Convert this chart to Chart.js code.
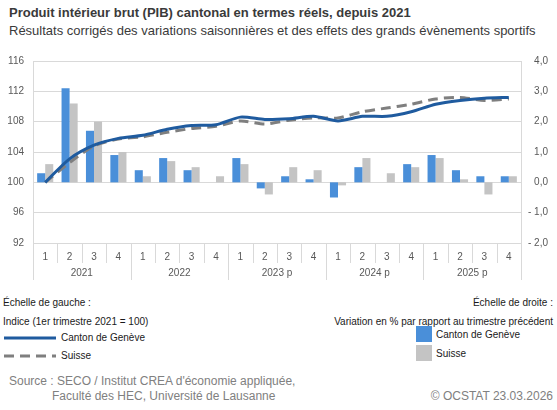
<!DOCTYPE html>
<html lang="fr">
<head>
<meta charset="utf-8">
<title>PIB cantonal</title>
<script src="https://cdn.jsdelivr.net/npm/chart.js@4/dist/chart.umd.min.js"></script>
<style>
  body { margin: 0; background: #fff; font-family: "Liberation Sans", Arial, sans-serif; }
  #page { position: relative; width: 557px; height: 410px; overflow: hidden; }
  #chartBox { position: absolute; left: 0; top: 0; }
  .t { position: absolute; white-space: nowrap; line-height: 1; }
  .title { left: 9px; top: 6px; font-size: 13px; font-weight: bold; color: #3a3a3a; }
  .sub { left: 9px; top: 24px; font-size: 13px; color: #3a3a3a; }
  .leg { font-size: 10px; color: #1a1a1a; }
  .src { font-size: 12px; color: #808080; }
  .swatch { position: absolute; width: 16px; height: 16px; }
</style>
</head>
<body>
<div id="page">
  <div class="t title">Produit intérieur brut (PIB) cantonal en termes réels, depuis 2021</div>
  <div class="t sub">Résultats corrigés des variations saisonnières et des effets des grands évènements sportifs</div>

  <div id="chartBox"><canvas id="pibChart" width="557" height="290"></canvas></div>

  <!-- Légende gauche -->
  <div class="t leg" style="left:3px; top:298px;">Échelle de gauche :</div>
  <div class="t leg" style="left:3px; top:317px;">Indice (1er trimestre 2021 = 100)</div>
  <svg style="position:absolute; left:0; top:331px;" width="60" height="32">
    <line x1="4" y1="7" x2="56" y2="7" stroke="#1f5b9f" stroke-width="3"/>
    <line x1="4" y1="25" x2="56" y2="25" stroke="#7f7f7f" stroke-width="3" stroke-dasharray="10,6"/>
  </svg>
  <div class="t leg" style="left:61px; top:333px;">Canton de Genève</div>
  <div class="t leg" style="left:61px; top:351px;">Suisse</div>

  <!-- Légende droite -->
  <div class="t leg" style="right:4px; top:298px;">Échelle de droite :</div>
  <div class="t leg" style="right:4px; top:317px;">Variation en % par rapport au trimestre précédent</div>
  <div class="swatch" style="left:416px; top:326px; background:#4a8fd9;"></div>
  <div class="t leg" style="left:436px; top:330px;">Canton de Genève</div>
  <div class="swatch" style="left:416px; top:345px; background:#c4c4c4;"></div>
  <div class="t leg" style="left:436px; top:349px;">Suisse</div>

  <div class="t src" style="left:9px; top:375px;">Source : SECO / Institut CREA d'économie appliquée,</div>
  <div class="t src" style="left:52px; top:390px;">Faculté des HEC, Université de Lausanne</div>
  <div class="t src" style="right:4px; top:390px;">© OCSTAT 23.03.2026</div>
</div>

<script>
// Trimestres et années
const quarters = ['1', '2', '3', '4', '1', '2', '3', '4', '1', '2', '3', '4', '1', '2', '3', '4', '1', '2', '3', '4'];
const years = ['2021', '2022', '2023 p', '2024 p', '2025 p'];

// Indice (1er trimestre 2021 = 100), échelle de gauche
const indexGeneve = [100, 103.1, 104.9, 105.8, 106.2, 107.0, 107.5, 107.6, 108.6, 108.3,
  108.4, 108.7, 108.1, 108.7, 108.7, 109.3, 110.3, 110.8, 111.1, 111.2];
const indexSuisse = [100, 102.6, 104.8, 105.7, 106.0, 106.6, 107.1, 107.4, 108.1, 107.7,
  108.2, 108.5, 108.5, 109.3, 109.8, 110.3, 111.0, 111.2, 110.8, 111.0];

// Variation en % par rapport au trimestre précédent, échelle de droite
const varGeneve = [0.3, 3.1, 1.7, 0.9, 0.4, 0.8, 0.4, 0.0, 0.8, -0.2,
  0.2, 0.1, -0.5, 0.5, 0.0, 0.6, 0.9, 0.4, 0.2, 0.2];
const varSuisse = [0.6, 2.6, 2.0, 1.0, 0.2, 0.7, 0.5, 0.2, 0.6, -0.4,
  0.5, 0.4, -0.1, 0.8, 0.3, 0.5, 0.8, 0.1, -0.4, 0.2];

const leftTicks = { min: 92, max: 116, step: 4 };
const rightTicks = { min: -2, max: 4, step: 1 };

const gridColor = '#d9d9d9';
const tickColor = '#595959';
const fontFamily = '"Liberation Sans", Arial, sans-serif';

// Séparateurs sous l'axe et libellés des années
const yearAxisPlugin = {
  id: 'yearAxis',
  afterDraw(chart) {
    const ctx = chart.ctx;
    const x = chart.scales.x;
    const area = chart.chartArea;
    const n = quarters.length;
    ctx.save();
    ctx.strokeStyle = gridColor;
    ctx.lineWidth = 1;
    for (let k = 0; k <= n; k++) {
      let px;
      if (k === 0) px = area.left;
      else if (k === n) px = area.right;
      else px = (x.getPixelForValue(k - 1) + x.getPixelForValue(k)) / 2;
      const bottom = (k % 4 === 0) ? area.bottom + 37 : area.bottom + 20;
      ctx.beginPath();
      ctx.moveTo(Math.round(px) + 0.5, area.bottom);
      ctx.lineTo(Math.round(px) + 0.5, bottom);
      ctx.stroke();
    }
    ctx.fillStyle = tickColor;
    ctx.font = '10px ' + fontFamily;
    ctx.textAlign = 'center';
    ctx.textBaseline = 'middle';
    years.forEach((y, i) => {
      const cx = (x.getPixelForValue(i * 4) + x.getPixelForValue(i * 4 + 3)) / 2;
      ctx.fillText(y, cx, area.bottom + 30);
    });
    ctx.restore();
  }
};

const ctx = document.getElementById('pibChart').getContext('2d');
const pibChart = new Chart(ctx, {
  data: {
    labels: quarters,
    datasets: [
      {
        type: 'line', label: 'Canton de Genève (indice)', data: indexGeneve, yAxisID: 'y',
        borderColor: '#1f5b9f', borderWidth: 3, pointRadius: 0, tension: 0.25, order: 0
      },
      {
        type: 'line', label: 'Suisse (indice)', data: indexSuisse, yAxisID: 'y',
        borderColor: '#7f7f7f', borderWidth: 3, borderDash: [10, 6], pointRadius: 0, tension: 0.25, order: 1
      },
      {
        type: 'bar', label: 'Canton de Genève (%)', data: varGeneve, yAxisID: 'y1',
        backgroundColor: '#4a8fd9', categoryPercentage: 0.66, barPercentage: 1, order: 2
      },
      {
        type: 'bar', label: 'Suisse (%)', data: varSuisse, yAxisID: 'y1',
        backgroundColor: '#c4c4c4', categoryPercentage: 0.66, barPercentage: 1, order: 2
      }
    ]
  },
  options: {
    responsive: false,
    animation: false,
    layout: { padding: { top: 61, right: 9, left: 0, bottom: 0 } },
    plugins: {
      legend: { display: false },
      tooltip: { enabled: false }
    },
    scales: {
      x: {
        grid: { display: false, drawTicks: false },
        border: { display: false },
        ticks: { color: tickColor, font: { size: 10, family: fontFamily }, padding: 8, maxRotation: 0, autoSkip: false },
        afterFit(scale) { scale.height = 47; }
      },
      y: {
        position: 'left',
        min: leftTicks.min, max: leftTicks.max,
        ticks: { stepSize: leftTicks.step, color: tickColor, padding: 9, font: { size: 10, family: fontFamily } },
        grid: { color: gridColor, drawTicks: false },
        border: { color: gridColor },
        afterFit(scale) { scale.width = 33; }
      },
      y1: {
        position: 'right',
        min: rightTicks.min, max: rightTicks.max,
        ticks: {
          stepSize: rightTicks.step, color: tickColor, crossAlign: 'far',
          font: { size: 10, family: fontFamily },
          callback: v => (v < 0 ? '- ' + Math.abs(v).toFixed(1) : v.toFixed(1)).replace('.', ',')
        },
        grid: { display: false, drawTicks: false },
        border: { color: gridColor },
        afterFit(scale) { scale.width = 27; }
      }
    }
  },
  plugins: [yearAxisPlugin]
});
</script>
</body>
</html>
